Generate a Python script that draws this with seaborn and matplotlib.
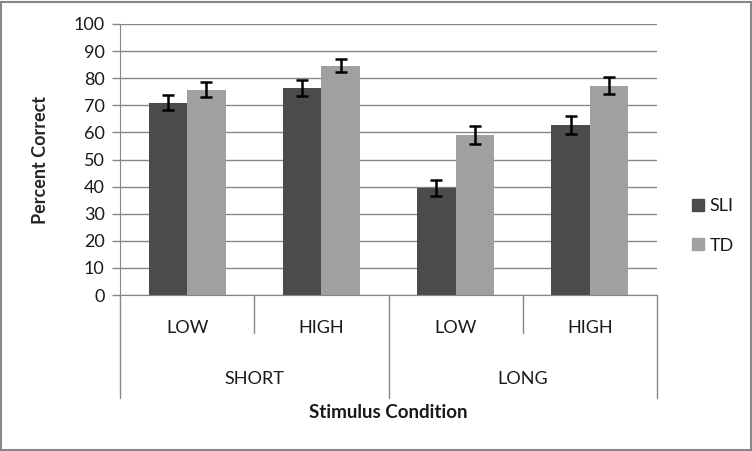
import numpy as np
import pandas as pd
import seaborn as sns
import matplotlib.pyplot as plt
from matplotlib.patches import Rectangle, Patch

# values
durations = ['SHORT', 'SHORT', 'LONG', 'LONG']
levels = ['LOW', 'HIGH', 'LOW', 'HIGH']
sli_mean = [71.0, 76.5, 39.5, 62.7]
td_mean = [75.8, 84.6, 59.0, 77.2]
sli_err = [2.8, 2.9, 3.0, 3.3]
td_err = [2.8, 2.4, 3.2, 3.1]
groups = ['SLI', 'TD']
colors = ['#4b4b4b', '#a0a0a0']

conds = [f'{d}-{l}' for d, l in zip(durations, levels)]
df = pd.DataFrame({
    'cond': conds * 2,
    'group': ['SLI'] * 4 + ['TD'] * 4,
    'value': sli_mean + td_mean,
})

sns.set_style('white')
plt.rcParams['font.family'] = ['Lato', 'DejaVu Sans']
plt.rcParams['text.color'] = '#1a1a1a'

fig = plt.figure(figsize=(7.52, 4.51), dpi=100)
ax = fig.add_axes([120 / 752, 1 - 295 / 451, 537 / 752, 271 / 451])

sns.barplot(data=df, x='cond', y='value', hue='group', order=conds,
            hue_order=groups, palette=colors, width=0.575, saturation=1,
            errorbar=None, ax=ax, legend=False, linewidth=0)

# error bars at the bar centres
errs = sli_err + td_err
for p, e in zip(ax.patches[:8], errs):
    xc = p.get_x() + p.get_width() / 2
    ax.errorbar(xc, p.get_height(), yerr=e, color='black', lw=1.8,
                capsize=4.5, capthick=1.8, zorder=5)

ax.set_ylim(0, 100)
ax.set_xlim(-0.5, 3.5)
ax.set_yticks(np.arange(0, 101, 10))
ax.yaxis.grid(True, color='#868686', lw=1)
ax.set_axisbelow(True)
ax.tick_params(axis='y', length=6, width=1, color='#868686', left=True,
               labelsize=13, labelcolor='#1a1a1a', pad=5)
ax.set_xticks([])
ax.set_xlabel('')
ax.set_ylabel('Percent Correct', fontsize=13, fontweight='bold', labelpad=18)
for s in ['top', 'right']:
    ax.spines[s].set_visible(False)
ax.spines['left'].set_color('#868686')
ax.spines['bottom'].set_color('#868686')

# two-level category axis
trans = ax.get_xaxis_transform()
px = 1 / 271  # one pixel in axes-fraction units
for i, lv in enumerate(levels):
    ax.text(i, -33 * px, lv, ha='center', va='center', fontsize=13,
            transform=trans)
for x in [0.5, 2.5]:
    ax.plot([x, x], [0, -38 * px], color='#868686', lw=1,
            transform=trans, clip_on=False)
for x in [-0.5, 1.5, 3.5]:
    ax.plot([x, x], [0, -103 * px], color='#868686', lw=1,
            transform=trans, clip_on=False)
for i, d in enumerate(['SHORT', 'LONG']):
    ax.text(2 * i + 0.5, -84 * px, d, ha='center', va='center', fontsize=13,
            transform=trans)
ax.text(1.5, -118 * px, 'Stimulus Condition', ha='center', va='center',
        fontsize=13.5, fontweight='bold', transform=trans)

handles = [Patch(color=c, label=g) for c, g in zip(colors, groups)]
fig.legend(handles=handles, loc='center left', bbox_to_anchor=(676 / 752, 1 - 226 / 451),
           frameon=False, fontsize=13, handlelength=0.65, handleheight=0.65,
           handletextpad=0.3, labelspacing=1.3)

fig.patches.append(Rectangle((1.5 / 752, 1.5 / 451), 749 / 752, 448 / 451,
                             transform=fig.transFigure, fill=False,
                             edgecolor='#868686', lw=1.5))

fig.savefig('out.png', dpi=100)
